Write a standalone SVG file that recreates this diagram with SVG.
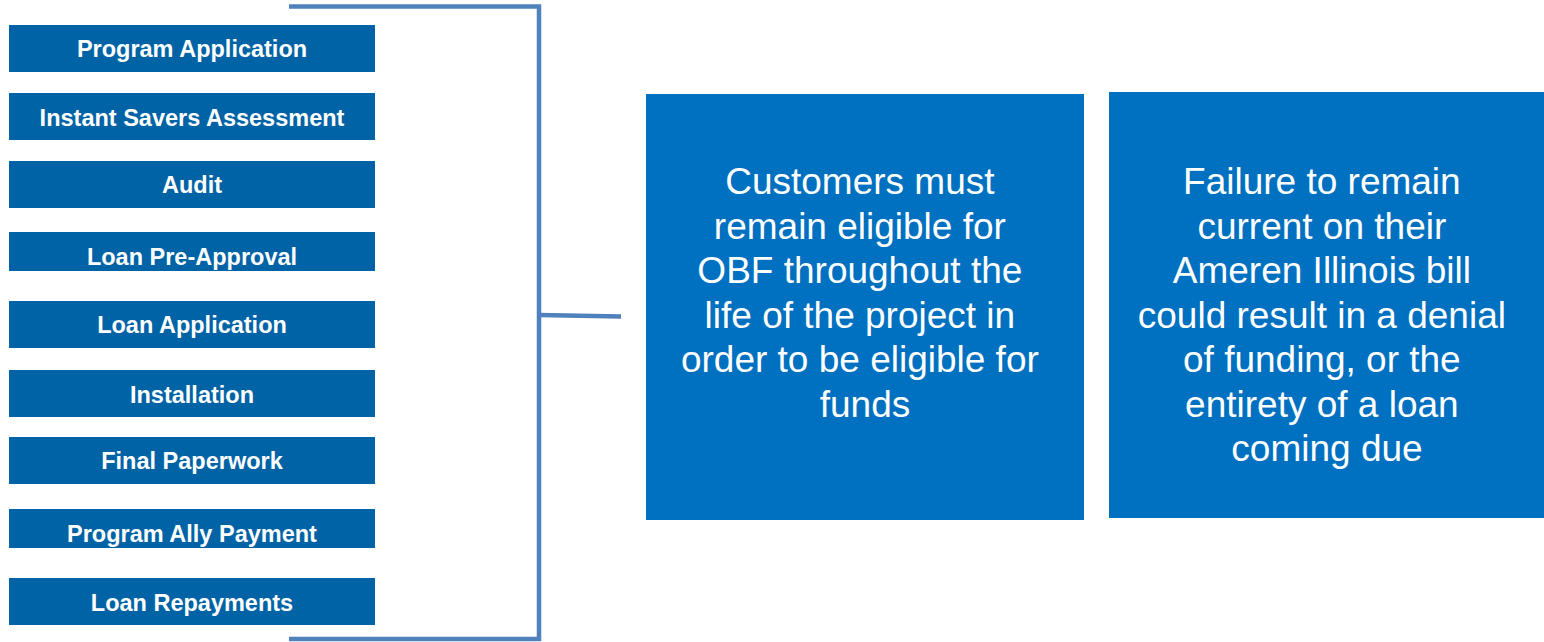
<svg xmlns="http://www.w3.org/2000/svg" width="1544" height="642" viewBox="0 0 1544 642">
<style>
.step{fill:#0063A5}
.stxt{font-family:"Liberation Sans",Arial,sans-serif;font-weight:bold;font-size:23.5px;fill:#fff;text-anchor:middle}
.card{fill:#0070C0}
.ctxt{font-family:"Liberation Sans",Arial,sans-serif;font-size:37px;fill:#fff;text-anchor:middle}
.conn{fill:none;stroke:#4F81BD;stroke-width:4.5}
</style>
<rect width="1544" height="642" fill="#fff"/>
<g id="connectors">
<path class="conn" d="M289 6.5 H539 V639 H289"/>
<path class="conn" d="M539 315 L621 316.5"/>
</g>
<g id="n1"><rect class="step" x="9" y="25" width="366" height="47"/><text class="stxt" x="192" y="57">Program Application</text></g>
<g id="n2"><rect class="step" x="9" y="93" width="366" height="47"/><text class="stxt" x="192" y="126">Instant Savers Assessment</text></g>
<g id="n3"><rect class="step" x="9" y="161" width="366" height="47"/><text class="stxt" x="192" y="193">Audit</text></g>
<g id="n4"><rect class="step" x="9" y="232" width="366" height="39"/><text class="stxt" x="192" y="265">Loan Pre-Approval</text></g>
<g id="n5"><rect class="step" x="9" y="301" width="366" height="47"/><text class="stxt" x="192" y="333">Loan Application</text></g>
<g id="n6"><rect class="step" x="9" y="370" width="366" height="47"/><text class="stxt" x="192" y="403">Installation</text></g>
<g id="n7"><rect class="step" x="9" y="437" width="366" height="47"/><text class="stxt" x="192" y="469">Final Paperwork</text></g>
<g id="n8"><rect class="step" x="9" y="509" width="366" height="39"/><text class="stxt" x="192" y="542">Program Ally Payment</text></g>
<g id="n9"><rect class="step" x="9" y="578" width="366" height="47"/><text class="stxt" x="192" y="611">Loan Repayments</text></g>
<g id="cardA">
<rect class="card" x="646" y="94" width="438" height="426"/>
<text class="ctxt">
<tspan x="865" y="194">Customers must</tspan>
<tspan x="865" y="238.5">remain eligible for</tspan>
<tspan x="865" y="283">OBF throughout the</tspan>
<tspan x="865" y="327.5">life of the project in</tspan>
<tspan x="865" y="372">order to be eligible for</tspan>
<tspan x="865" y="416.5">funds</tspan>
</text>
</g>
<g id="cardB">
<rect class="card" x="1109" y="92" width="435" height="426"/>
<text class="ctxt">
<tspan x="1327" y="194">Failure to remain</tspan>
<tspan x="1327" y="238.5">current on their</tspan>
<tspan x="1327" y="283">Ameren Illinois bill</tspan>
<tspan x="1327" y="327.5">could result in a denial</tspan>
<tspan x="1327" y="372">of funding, or the</tspan>
<tspan x="1327" y="416.5">entirety of a loan</tspan>
<tspan x="1327" y="461">coming due</tspan>
</text>
</g>
</svg>
